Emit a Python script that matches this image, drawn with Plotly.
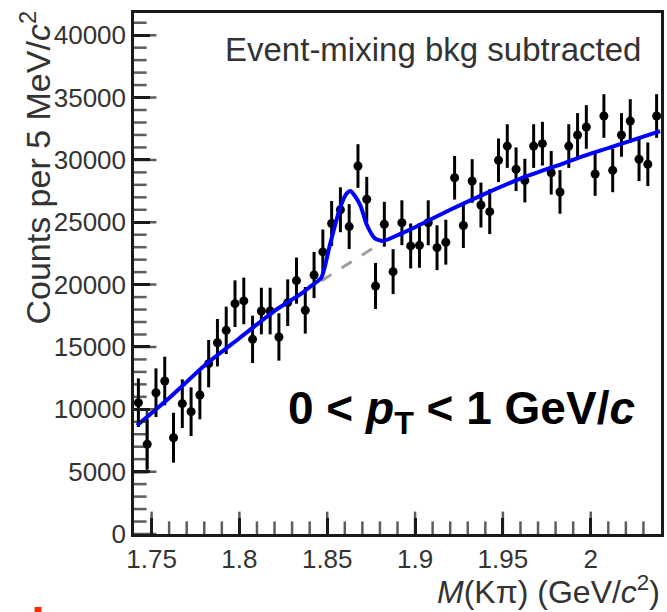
import plotly.graph_objects as go

# ---- data ----
bin_width = 0.005
bin_lo = 1.74
counts = [10530, 7200, 11330, 12270, 7720, 10450, 9810, 11150, 13660, 15340,
          16330, 18470, 18690, 15610, 17880, 17880, 15800, 18550, 20320, 17940,
          20770, 22620, 24900, 26000, 24650, 29510, 26840, 19890, 24840, 21040,
          24960, 23100, 23150, 24960, 22960, 23400, 28570, 24740, 28310, 26380,
          25850, 29970, 31110, 29250, 28340, 31110, 31300, 28970, 27430, 31110,
          32000, 32640, 28870, 33520, 29160, 32000, 33120, 30050, 29650, 33520]
errors = [1950, 2000, 1950, 1950, 2000, 1950, 1950, 1950, 1900, 1900,
          1900, 1870, 1870, 1900, 1870, 1870, 1900, 1870, 1850, 1870,
          1850, 1800, 1800, 1800, 1800, 1750, 1800, 1850, 1800, 1800,
          1800, 1800, 1800, 1800, 1800, 1800, 1750, 1800, 1750, 1800,
          1800, 1750, 1750, 1750, 1750, 1750, 1750, 1750, 1750, 1750,
          1750, 1750, 1750, 1750, 1750, 1750, 1750, 1750, 1750, 1750]
mass = [round(bin_lo + bin_width * (i + 0.5), 4) for i in range(len(counts))]

fit_mass = [1.7417, 1.76, 1.78, 1.80, 1.82, 1.835, 1.840, 1.8466, 1.8516, 1.8573,
            1.8610, 1.8633, 1.8660, 1.8690, 1.8724, 1.8771, 1.8818, 1.8911, 1.90,
            1.92, 1.94, 1.96, 1.98, 2.00, 2.02, 2.0395]
fit_total = [8700, 10900, 13500, 15700, 17900, 19250, 19800, 20550, 23230, 26170,
             27300, 27500, 27050, 26300, 24840, 23710, 23500, 24030, 24600,
             26000, 27300, 28500, 29500, 30500, 31400, 32300]

bkg_mass = [1.8466, 1.8820]
bkg_vals = [20300, 23450]

# histogram step at left edge
step_x = [1.74, 1.7474, 1.7474]
step_y = [4950, 4950, 10000]

x_range = [1.74, 2.04]
y_range = [0, 41780]

# tick grids (axis values)
x_minor_vals = [i / 100 for i in range(175, 204)]
y_minor_vals = [k * 1000 for k in range(0, 42)]

# ---- geometry helpers ----
W, H = 667, 612
L, R, T, B = 134, 3, 13, 78
pw, ph = W - L - R, H - T - B


def px(x):
    return (x - L) / pw


def py(y):
    return (H - B - y) / ph


FONT = "Liberation Sans, Arial, Helvetica, sans-serif"
TICKC = "#1a1a1a"

fig = go.Figure()

fig.add_trace(go.Scatter(x=step_x, y=step_y, mode="lines",
                         line=dict(color="#333333", width=2.5),
                         hoverinfo="skip", showlegend=False))

fig.add_trace(go.Scatter(
    x=mass, y=counts, mode="markers",
    marker=dict(color="black", size=9),
    error_y=dict(type="data", array=errors, color="black", thickness=3, width=0),
    showlegend=False))

fig.add_trace(go.Scatter(x=bkg_mass, y=bkg_vals, mode="lines",
                         line=dict(color="#a0a0a0", width=3, dash="12px,12px"),
                         showlegend=False))

fig.add_trace(go.Scatter(x=fit_mass, y=fit_total, mode="lines",
                         line=dict(color="#0000ff", width=4, shape="spline", smoothing=0.6),
                         showlegend=False))

# ROOT-style inward tick marks, drawn as clipped line markers on the axes
x_tick_sizes = [32 if round(v * 100) % 5 == 0 else 18 for v in x_minor_vals]
y_tick_sizes = [32 if v % 5000 == 0 else 18 for v in y_minor_vals]
fig.add_trace(go.Scatter(
    x=x_minor_vals, y=[y_range[0]] * len(x_minor_vals), mode="markers",
    marker=dict(symbol="line-ns", size=x_tick_sizes, line=dict(color=TICKC, width=2.5)),
    hoverinfo="skip", showlegend=False, cliponaxis=True))
fig.add_trace(go.Scatter(
    x=[x_range[0]] * len(y_minor_vals), y=y_minor_vals, mode="markers",
    marker=dict(symbol="line-ew", size=y_tick_sizes, line=dict(color=TICKC, width=2.5)),
    hoverinfo="skip", showlegend=False, cliponaxis=True))

fig.update_layout(
    xaxis=dict(range=x_range, dtick=0.05, tick0=1.75,
               ticks="inside", ticklen=16, tickwidth=2.5, tickcolor=TICKC,
               showline=True, mirror=True, linecolor=TICKC, linewidth=2.5,
               showgrid=False, zeroline=False,
               tickfont=dict(family=FONT, size=26, color="#333333")),
    yaxis=dict(range=y_range, dtick=5000, tick0=0, tickformat="d",
               ticks="inside", ticklen=16, tickwidth=2.5, tickcolor=TICKC,
               showline=True, mirror=True, linecolor=TICKC, linewidth=2.5,
               showgrid=False, zeroline=False,
               tickfont=dict(family=FONT, size=26, color="#333333")),
)

annotations = [
    dict(text="Event-mixing bkg subtracted", x=px(646), y=py(50), xanchor="right",
         yanchor="middle", font=dict(family=FONT, size=33, color="#333333")),
    dict(text="<b>0 &lt; <i>p</i><sub>T</sub> &lt; 1 GeV/<i>c</i></b>", x=px(640), y=py(412),
         xanchor="right", yanchor="middle", font=dict(family=FONT, size=46, color="black")),
    dict(text="Counts per 5 MeV/<i>c</i><sup>2</sup>", x=px(34), y=py(168), textangle=-90,
         xanchor="center", yanchor="middle", font=dict(family=FONT, size=34, color="#333333")),
    dict(text="<i>M</i>(Kπ) (GeV/<i>c</i><sup>2</sup>)", x=px(665), y=py(590),
         xanchor="right", yanchor="middle", font=dict(family=FONT, size=32, color="#333333")),
]
for a in annotations:
    a.update(xref="paper", yref="paper", showarrow=False)

fig.update_layout(
    width=W, height=H, margin=dict(l=L, r=R, t=T, b=B),
    paper_bgcolor="white", plot_bgcolor="white",
    annotations=annotations,
    shapes=[dict(type="rect", xref="paper", yref="paper", x0=px(34), x1=px(41),
                 y0=py(612), y1=py(607), fillcolor="#ff2a00", line=dict(width=0))],
)

fig.write_html("out.html")
